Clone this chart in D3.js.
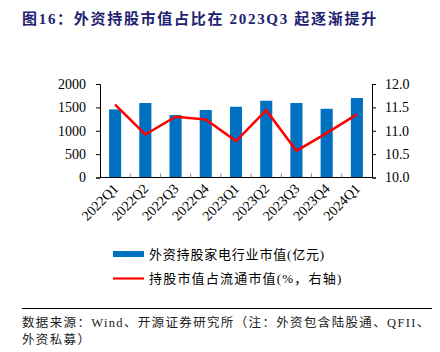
<!DOCTYPE html>
<html><head><meta charset="utf-8">
<script src="https://cdn.jsdelivr.net/npm/d3@7/dist/d3.min.js"></script>
<style>
body{margin:0;background:#fff;}
svg{display:block;}
</style></head>
<body>
<svg id="c" width="440" height="352"></svg>
<script>
const categories = ["2022Q1","2022Q2","2022Q3","2022Q4","2023Q1","2023Q2","2023Q3","2023Q4","2024Q1"];
const barValues = [1457, 1593, 1335, 1443, 1513, 1642, 1593, 1470, 1700];
const lineValues = [11.56, 10.92, 11.30, 11.24, 10.78, 11.44, 10.57, 10.95, 11.35];
const leftTicks = [0, 500, 1000, 1500, 2000];
const rightTicks = [10.0, 10.5, 11.0, 11.5, 12.0];
const barName = "外资持股家电行业市值(亿元)";
const lineName = "持股市值占流通市值(%，右轴)";
const title = "图16：外资持股市值占比在 2023Q3 起逐渐提升";
const source1 = "数据来源：Wind、开源证券研究所（注：外资包含陆股通、QFII、";
const source2 = "外资私募）";

const svg = d3.select("#c");
const serif = "'Liberation Serif','Times New Roman','Noto Sans CJK SC',serif";
const cjk = "'Liberation Serif','Noto Sans CJK SC',sans-serif";

const L = 100, R = 372, T = 84, B = 177.5;
const x = d3.scaleBand().domain(categories).range([L, R]).paddingInner(0).paddingOuter(0);
const yL = d3.scaleLinear().domain([0, 2000]).range([B, T]);
const yR = d3.scaleLinear().domain([10, 12]).range([B, T]);

// title
svg.append("text").attr("x", 22).attr("y", 24)
  .attr("font-family", cjk).attr("font-weight", "bold").attr("font-size", 15)
  .attr("letter-spacing", 1.7).attr("fill", "#1e2270").text(title);

// bars
const bw = x.bandwidth() * 0.4;
svg.append("g").selectAll("rect").data(barValues).join("rect")
  .attr("x", (d, i) => x(categories[i]) + x.bandwidth() / 2 - bw / 2)
  .attr("y", d => yL(d)).attr("width", bw).attr("height", d => B - yL(d))
  .attr("fill", "#0070C0");

// line
const line = d3.line().x((d, i) => x(categories[i]) + x.bandwidth() / 2).y(d => yR(d));
svg.append("path").datum(lineValues).attr("d", line)
  .attr("fill", "none").attr("stroke", "#FF0000").attr("stroke-width", 2.5).attr("stroke-linejoin", "miter");

// left axis
const gl = svg.append("g").attr("transform", `translate(${L},0)`)
  .call(d3.axisLeft(yL).tickValues(leftTicks).tickSize(4).tickPadding(10).tickFormat(d3.format("d")));
// right axis
const gr = svg.append("g").attr("transform", `translate(${R},0)`)
  .call(d3.axisRight(yR).tickValues(rightTicks).tickSize(4).tickPadding(9).tickFormat(d3.format(".1f")));
[gl, gr].forEach(g => {
  g.select(".domain").attr("stroke", "#000").attr("stroke-width", 1);
  g.selectAll(".tick line").attr("stroke", "#000");
  g.selectAll("text").attr("font-family", serif).attr("font-size", 14).attr("fill", "#000");
});

// x axis
const gx = svg.append("g").attr("transform", `translate(0,${B})`);
gx.append("line").attr("x1", L).attr("x2", R).attr("y1", 0).attr("y2", 0).attr("stroke", "#000").attr("stroke-width", 1.2);
gx.selectAll("line.t").data(categories.slice(1)).join("line").attr("class", "t")
  .attr("x1", d => x(d)).attr("x2", d => x(d)).attr("y1", 0).attr("y2", -4)
  .attr("stroke", "#888").attr("stroke-width", 1);
gx.selectAll("text").data(categories).join("text")
  .attr("transform", d => `translate(${x(d) + x.bandwidth() / 2 + 4},${12}) rotate(-45)`)
  .attr("text-anchor", "end").attr("font-family", serif).attr("font-size", 14).attr("fill", "#000")
  .text(d => d);

// legend
const lg = svg.append("g");
lg.append("rect").attr("x", 113).attr("y", 251).attr("width", 31).attr("height", 6).attr("fill", "#0070C0");
lg.append("text").attr("x", 149).attr("y", 259).attr("font-family", cjk).attr("font-size", 13)
  .attr("letter-spacing", 0.8).attr("fill", "#000").text(barName);
lg.append("line").attr("x1", 113).attr("x2", 144).attr("y1", 278.5).attr("y2", 278.5)
  .attr("stroke", "#FF0000").attr("stroke-width", 2.2);
lg.append("text").attr("x", 149).attr("y", 283).attr("font-family", cjk).attr("font-size", 13)
  .attr("letter-spacing", 1.2).attr("fill", "#000").text(lineName);

// separator and source
svg.append("line").attr("x1", 22).attr("x2", 432).attr("y1", 308.5).attr("y2", 308.5).attr("stroke", "#000").attr("stroke-width", 1);
svg.append("text").attr("x", 22).attr("y", 327).attr("font-family", cjk).attr("font-size", 12.5)
  .attr("letter-spacing", 1.35).attr("fill", "#222").text(source1);
svg.append("text").attr("x", 22).attr("y", 344).attr("font-family", cjk).attr("font-size", 12.5)
  .attr("letter-spacing", 1.35).attr("fill", "#222").text(source2);
</script>
</body></html>
